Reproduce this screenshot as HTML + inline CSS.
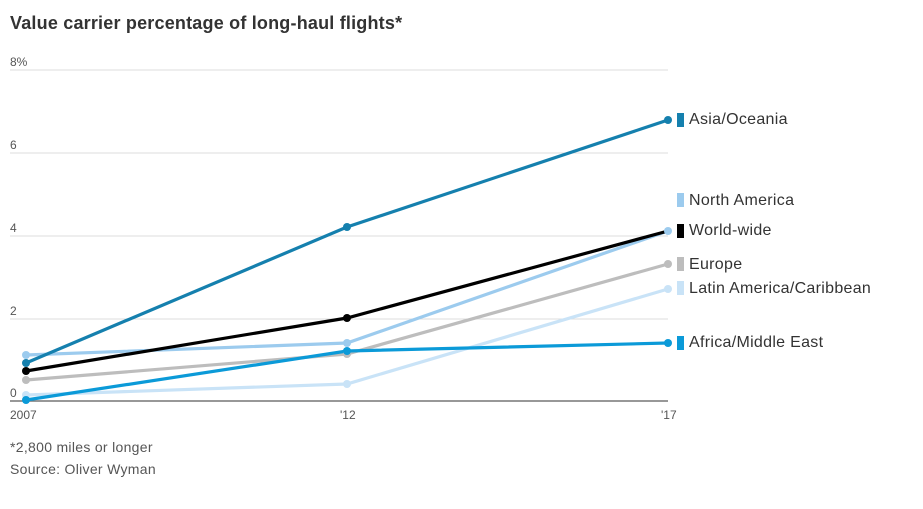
<!DOCTYPE html><html><head><style>body{margin:0;background:#fff}svg{display:block}text{font-family:"Liberation Sans",sans-serif}</style></head><body>
<svg width="923" height="509" viewBox="0 0 923 509">
<text x="10" y="29" font-size="18" font-weight="bold" fill="#333" letter-spacing="0.2">Value carrier percentage of long-haul flights*</text>
<g stroke="#ddd" stroke-width="1">
<line x1="10" y1="70" x2="668" y2="70"/><line x1="10" y1="153" x2="668" y2="153"/><line x1="10" y1="236" x2="668" y2="236"/><line x1="10" y1="319" x2="668" y2="319"/></g>
<line x1="10" y1="401" x2="668" y2="401" stroke="#777" stroke-width="1.5"/>
<g font-size="12" fill="#555"><text x="10" y="66">8%</text><text x="10" y="149">6</text><text x="10" y="232">4</text><text x="10" y="315">2</text><text x="10" y="397">0</text>
<text x="10" y="419">2007</text><text x="340" y="419">'12</text><text x="661" y="419">'17</text>
<text x="10" y="452" font-size="14" letter-spacing="0.3">*2,800 miles or longer</text><text x="10" y="474" font-size="14" letter-spacing="0.3">Source: Oliver Wyman</text></g>
<g fill="none" stroke-width="3.2">
<polyline points="26,395 347,384 668,289" stroke="#c9e3f7"/>
<polyline points="26,380 347,354 668,264" stroke="#bdbdbd"/>
<polyline points="26,355 347,343 668,231" stroke="#9ccbee"/>
<polyline points="26,371 347,318 668,231" stroke="#000"/>
<polyline points="26,400 347,351 668,343" stroke="#0b9ad8"/>
<polyline points="26,363 347,227 668,120" stroke="#1580ae"/>
</g>
<g>
<circle cx="26" cy="395" r="4" fill="#c9e3f7"/><circle cx="347" cy="384" r="4" fill="#c9e3f7"/><circle cx="668" cy="289" r="4" fill="#c9e3f7"/>
<circle cx="26" cy="380" r="4" fill="#bdbdbd"/><circle cx="347" cy="354" r="4" fill="#bdbdbd"/><circle cx="668" cy="264" r="4" fill="#bdbdbd"/>
<circle cx="26" cy="355" r="4" fill="#9ccbee"/><circle cx="347" cy="343" r="4" fill="#9ccbee"/><circle cx="668" cy="231" r="4" fill="#9ccbee"/>
<circle cx="26" cy="371" r="4" fill="#000"/><circle cx="347" cy="318" r="4" fill="#000"/>
<circle cx="26" cy="400" r="4" fill="#0b9ad8"/><circle cx="347" cy="351" r="4" fill="#0b9ad8"/><circle cx="668" cy="343" r="4" fill="#0b9ad8"/>
<circle cx="26" cy="363" r="4" fill="#1580ae"/><circle cx="347" cy="227" r="4" fill="#1580ae"/><circle cx="668" cy="120" r="4" fill="#1580ae"/>
</g>
<g font-size="16" fill="#333" letter-spacing="0.3">
<rect x="677" y="113" width="7" height="14" fill="#1580ae"/><text x="689" y="124">Asia/Oceania</text>
<rect x="677" y="193" width="7" height="14" fill="#9ccbee"/><text x="689" y="205">North America</text>
<rect x="677" y="224" width="7" height="14" fill="#000"/><text x="689" y="235">World-wide</text>
<rect x="677" y="257" width="7" height="14" fill="#bdbdbd"/><text x="689" y="269">Europe</text>
<rect x="677" y="281" width="7" height="14" fill="#c9e3f7"/><text x="689" y="293">Latin America/Caribbean</text>
<rect x="677" y="336" width="7" height="14" fill="#0b9ad8"/><text x="689" y="347">Africa/Middle East</text>
</g>
</svg></body></html>
